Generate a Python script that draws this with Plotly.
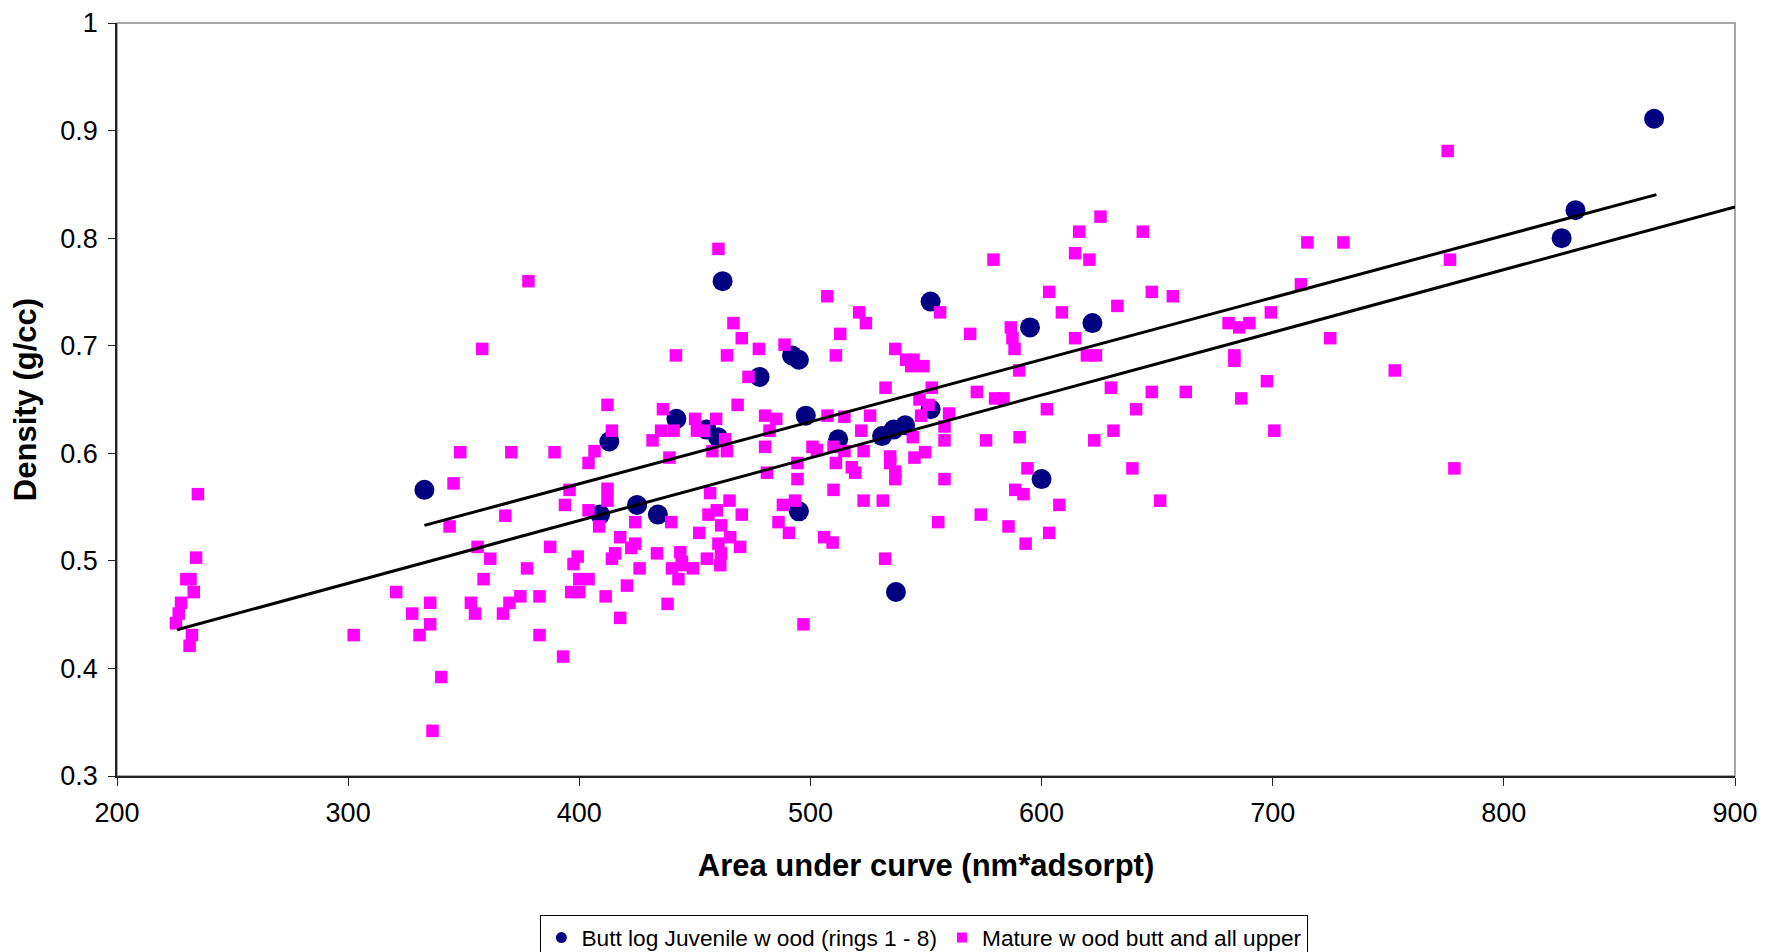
import plotly.graph_objects as go

# Butt log juvenile wood (rings 1 - 8)
juv_x = [333, 409, 413, 425, 434, 442, 455, 460, 462, 478, 492, 495, 495, 498,
         512, 531, 536, 537, 541, 552, 552, 595, 600, 622, 825, 831, 865]
juv_y = [0.566, 0.543, 0.611, 0.552, 0.543, 0.632, 0.622, 0.615, 0.760, 0.671, 0.691, 0.687, 0.546, 0.635,
         0.613, 0.616, 0.622, 0.471, 0.626, 0.741, 0.641, 0.717, 0.576, 0.721, 0.800, 0.826, 0.911]

# Mature wood butt and all upper
mat_x = [235.0, 234.2, 230.0, 231.8, 233.2, 227.7, 226.7, 225.5, 232.4, 231.4,
         302.4, 320.8, 327.7, 335.5, 335.5, 330.9, 340.3, 336.5,
         348.5, 345.6, 343.9, 370.6, 389.3, 368.0, 356.0, 361.5, 358.6, 358.0,
         353.1, 354.9, 367.0, 369.8, 374.5, 382.8, 377.4, 387.4, 382.8, 393.0,
         460.2, 378.0, 507.3, 521.1, 524.0, 466.7, 470.3, 512.9, 477.7, 488.8, 511.0, 441.8, 463.9, 536.7,
         473.2, 532.5, 468.5, 412.2, 436.2, 450.1, 459.2, 480.4, 485.2, 507.4, 514.7, 525.8,
         414.1, 435.4, 440.8, 450.9, 454.0, 463.1, 482.3, 522.0, 431.7,
         406.6, 404.0, 439.0, 457.6, 463.9, 480.4, 500.9, 502.8, 510.0, 514.7, 523.0, 511.0, 481.2, 517.9, 519.4, 494.4, 494.4,
         395.8, 412.2, 412.2, 393.8, 404.0, 456.6, 465.0, 459.5, 455.9, 470.3, 510.0, 523.0, 531.3, 488.1, 493.4, 486.2, 490.7,
         424.2, 408.6, 439.8, 461.4, 465.3, 451.9, 469.6, 505.9, 509.6,
         417.7, 424.2, 422.5, 460.2, 461.3, 443.7, 444.4, 455.2, 461.0, 433.6, 415.5, 414.1, 399.3, 397.5,
         426.1, 440.1, 444.4, 449.2, 400.0, 404.0, 442.9, 420.6, 396.5, 400.0, 411.4, 438.2, 417.7, 497.0, 532.3,
         625.5, 616.3, 643.8, 614.5, 620.7, 579.2, 603.3, 647.7, 656.8, 556.1, 608.8, 632.8, 699.2, 569.1,
         586.7, 587.4, 588.3, 614.5, 680.9, 685.5, 689.9, 541.4, 544.6, 543.6, 548.9, 619.6, 623.5, 683.4, 683.4,
         590.3, 552.5, 547.2, 551.1, 572.0, 579.9, 583.5, 630.0, 647.7, 662.4, 686.4, 697.5, 700.7, 602.3, 640.9,
         547.9, 560.0, 558.0, 544.3, 558.0, 576.0, 590.5, 622.8, 631.1, 545.0, 549.6, 534.5, 534.5, 536.7, 536.7,
         558.0, 593.9, 639.3, 588.6, 592.2, 607.7, 651.3, 555.3, 573.7, 585.7, 603.3, 593.1,
         775.7, 715.0, 730.6, 776.7, 712.2, 724.9, 752.8, 778.6]
mat_y = [0.562, 0.503, 0.483, 0.483, 0.471, 0.461, 0.451, 0.442, 0.431, 0.421,
         0.431, 0.471, 0.451, 0.461, 0.441, 0.431, 0.392, 0.342,
         0.601, 0.572, 0.532, 0.601, 0.601, 0.542, 0.513, 0.502, 0.483, 0.697,
         0.461, 0.451, 0.451, 0.461, 0.467, 0.467, 0.493, 0.513, 0.431, 0.411,
         0.790, 0.760, 0.746, 0.731, 0.721, 0.721, 0.707, 0.711, 0.697, 0.701, 0.691, 0.691, 0.691, 0.697,
         0.671, 0.661, 0.645, 0.645, 0.641, 0.632, 0.632, 0.635, 0.632, 0.635, 0.634, 0.635,
         0.621, 0.621, 0.621, 0.621, 0.621, 0.613, 0.621, 0.621, 0.612,
         0.602, 0.591, 0.596, 0.602, 0.602, 0.606, 0.606, 0.603, 0.606, 0.602, 0.602, 0.591, 0.582, 0.587, 0.582, 0.591, 0.576,
         0.566, 0.567, 0.556, 0.552, 0.547, 0.563, 0.556, 0.547, 0.543, 0.543, 0.566, 0.556, 0.556, 0.552, 0.556, 0.536, 0.526,
         0.536, 0.532, 0.536, 0.533, 0.522, 0.526, 0.513, 0.522, 0.517,
         0.522, 0.516, 0.512, 0.516, 0.507, 0.508, 0.499, 0.502, 0.496, 0.507, 0.507, 0.502, 0.504, 0.497,
         0.493, 0.493, 0.496, 0.493, 0.483, 0.483, 0.483, 0.477, 0.471, 0.471, 0.467, 0.460, 0.447, 0.441, 0.502,
         0.820, 0.806, 0.806, 0.786, 0.780, 0.780, 0.750, 0.750, 0.746, 0.731, 0.731, 0.737, 0.731, 0.711,
         0.717, 0.707, 0.697, 0.707, 0.721, 0.717, 0.721, 0.687, 0.687, 0.681, 0.681, 0.691, 0.691, 0.691, 0.686,
         0.677, 0.661, 0.650, 0.645, 0.657, 0.651, 0.651, 0.661, 0.657, 0.657, 0.651, 0.667, 0.621, 0.641, 0.641,
         0.635, 0.637, 0.625, 0.615, 0.612, 0.612, 0.615, 0.612, 0.621, 0.596, 0.601, 0.597, 0.591, 0.583, 0.576,
         0.576, 0.586, 0.586, 0.566, 0.562, 0.552, 0.556, 0.536, 0.543, 0.532, 0.526, 0.516,
         0.881, 0.796, 0.796, 0.780, 0.757, 0.707, 0.677, 0.586]

# Trend lines (end points)
juv_fit_x = [333, 866]
juv_fit_y = [0.533, 0.8405]
all_fit_x = [226, 900]
all_fit_y = [0.436, 0.829]

x_ticks = [200, 300, 400, 500, 600, 700, 800, 900]
y_ticks = [0.3, 0.4, 0.5, 0.6, 0.7, 0.8, 0.9, 1.0]
y_labels = ["0.3", "0.4", "0.5", "0.6", "0.7", "0.8", "0.9", "1"]

NAVY = "#000080"
MAGENTA = "#FF00FF"
FONT = "Liberation Sans, Arial, sans-serif"

fig = go.Figure()
fig.add_trace(go.Scatter(x=juv_x, y=juv_y, mode="markers", showlegend=False,
                         marker=dict(symbol="circle", size=20, color=NAVY)))
fig.add_trace(go.Scatter(x=mat_x, y=mat_y, mode="markers", showlegend=False,
                         marker=dict(symbol="square", size=12.5, color=MAGENTA)))
fig.add_trace(go.Scatter(x=juv_fit_x, y=juv_fit_y, mode="lines", showlegend=False,
                         line=dict(color="black", width=3)))
fig.add_trace(go.Scatter(x=all_fit_x, y=all_fit_y, mode="lines", showlegend=False,
                         line=dict(color="black", width=3)))
# legend entries
fig.add_trace(go.Scatter(x=[None], y=[None], mode="markers",
                         name="Butt log Juvenile w ood (rings 1 - 8)",
                         marker=dict(symbol="circle", size=11, color=NAVY)))
fig.add_trace(go.Scatter(x=[None], y=[None], mode="markers",
                         name="Mature w ood butt and all upper",
                         marker=dict(symbol="square", size=10, color=MAGENTA)))

fig.update_layout(
    width=1776, height=952,
    margin=dict(l=109, r=49, t=15, b=184, autoexpand=False),
    paper_bgcolor="white", plot_bgcolor="white",
    font=dict(family=FONT, color="black"),
    showlegend=True,
    legend=dict(orientation="h", x=0.499, xanchor="center", y=-0.185, yanchor="top",
                bordercolor="black", borderwidth=1, bgcolor="white",
                font=dict(size=22.7, family=FONT), itemwidth=30,
                tracegroupgap=0),
    shapes=[dict(type="rect", xref="paper", yref="paper", x0=0, y0=0, x1=1, y1=1,
                 line=dict(color="#8c8c8c", width=1.5), layer="below")],
)
fig.update_xaxes(range=[200, 900], tickvals=x_ticks, ticks="outside", ticklen=8,
                 tickcolor="#222", tickwidth=1, showgrid=False, zeroline=False,
                 showline=True, linecolor="#222", linewidth=1.5, automargin=False,
                 tickfont=dict(size=27, family=FONT), ticklabelstandoff=4,
                 title=dict(text="<b>Area under curve (nm*adsorpt)</b>",
                            font=dict(size=31, family=FONT), standoff=27))
fig.update_yaxes(range=[0.3, 1.0], tickvals=y_ticks, ticktext=y_labels,
                 ticks="outside", ticklen=7, tickcolor="#222", tickwidth=1,
                 showgrid=False, zeroline=False, automargin=False,
                 showline=True, linecolor="#222", linewidth=1.5,
                 tickfont=dict(size=27, family=FONT), ticklabelstandoff=5,
                 title=dict(text="<b>Density (g/cc)</b>",
                            font=dict(size=31, family=FONT), standoff=16))

fig.write_html("out.html")
